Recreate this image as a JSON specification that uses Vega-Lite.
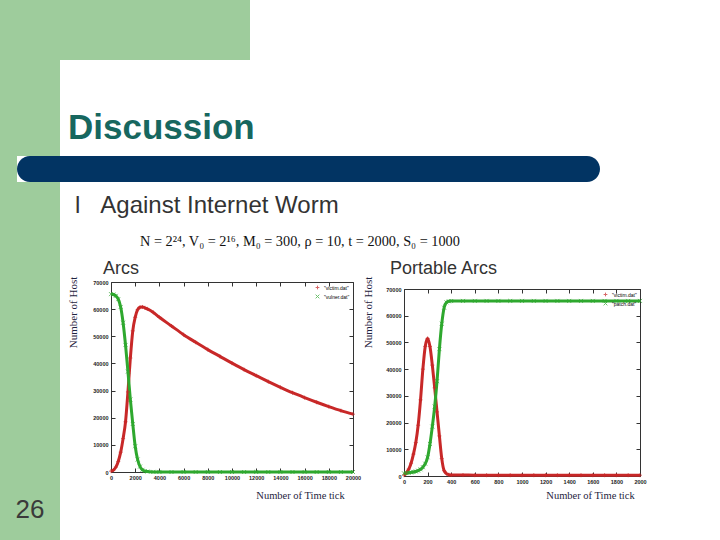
{
  "$schema": "https://vega.github.io/schema/vega-lite/v6.json",
  "padding": 0,
  "background": "white",
  "spacing": 0,
  "bounds": "flush",
  "config": {
    "view": {"stroke": null},
    "font": "Liberation Sans",
    "concat": {"spacing": 0},
    "title": {"font": "Liberation Sans", "fontWeight": "normal", "color": "#333333", "anchor": "start", "frame": "group", "limit": 2000},
    "axis": {"grid": false, "domain": false, "tickSize": -4, "tickColor": "#333333", "labelFontSize": 5.5, "labelFontWeight": "bold", "labelColor": "#222222", "labelPadding": 7, "labelFlush": false, "labelOverlap": false, "titleFont": "Liberation Serif", "titleFontWeight": "normal", "titleColor": "#1f2440", "titleBaseline": "middle", "titleAlign": "center"}
  },
  "datasets": {
    "arcs": [
      {"t": 0, "hosts": 300, "series": "\"victim.dat\""},
      {"t": 200, "hosts": 700, "series": "\"victim.dat\""},
      {"t": 400, "hosts": 1800, "series": "\"victim.dat\""},
      {"t": 600, "hosts": 3900, "series": "\"victim.dat\""},
      {"t": 800, "hosts": 7300, "series": "\"victim.dat\""},
      {"t": 1000, "hosts": 12300, "series": "\"victim.dat\""},
      {"t": 1200, "hosts": 18500, "series": "\"victim.dat\""},
      {"t": 1400, "hosts": 29500, "series": "\"victim.dat\""},
      {"t": 1600, "hosts": 42000, "series": "\"victim.dat\""},
      {"t": 1800, "hosts": 52000, "series": "\"victim.dat\""},
      {"t": 2000, "hosts": 57000, "series": "\"victim.dat\""},
      {"t": 2200, "hosts": 59800, "series": "\"victim.dat\""},
      {"t": 2400, "hosts": 60700, "series": "\"victim.dat\""},
      {"t": 2600, "hosts": 60800, "series": "\"victim.dat\""},
      {"t": 2800, "hosts": 60500, "series": "\"victim.dat\""},
      {"t": 3000, "hosts": 60100, "series": "\"victim.dat\""},
      {"t": 3500, "hosts": 58800, "series": "\"victim.dat\""},
      {"t": 4000, "hosts": 57000, "series": "\"victim.dat\""},
      {"t": 5000, "hosts": 53800, "series": "\"victim.dat\""},
      {"t": 6000, "hosts": 50600, "series": "\"victim.dat\""},
      {"t": 7000, "hosts": 47800, "series": "\"victim.dat\""},
      {"t": 8000, "hosts": 45100, "series": "\"victim.dat\""},
      {"t": 9000, "hosts": 42600, "series": "\"victim.dat\""},
      {"t": 10000, "hosts": 40100, "series": "\"victim.dat\""},
      {"t": 11000, "hosts": 37700, "series": "\"victim.dat\""},
      {"t": 12000, "hosts": 35500, "series": "\"victim.dat\""},
      {"t": 13000, "hosts": 33300, "series": "\"victim.dat\""},
      {"t": 14000, "hosts": 31200, "series": "\"victim.dat\""},
      {"t": 15000, "hosts": 29200, "series": "\"victim.dat\""},
      {"t": 16000, "hosts": 27400, "series": "\"victim.dat\""},
      {"t": 17000, "hosts": 25700, "series": "\"victim.dat\""},
      {"t": 18000, "hosts": 24100, "series": "\"victim.dat\""},
      {"t": 19000, "hosts": 22600, "series": "\"victim.dat\""},
      {"t": 20000, "hosts": 21300, "series": "\"victim.dat\""},
      {"t": 0, "hosts": 65536, "series": "\"vulner.dat\""},
      {"t": 200, "hosts": 65400, "series": "\"vulner.dat\""},
      {"t": 400, "hosts": 64900, "series": "\"vulner.dat\""},
      {"t": 600, "hosts": 63700, "series": "\"vulner.dat\""},
      {"t": 800, "hosts": 60800, "series": "\"vulner.dat\""},
      {"t": 1000, "hosts": 55000, "series": "\"vulner.dat\""},
      {"t": 1200, "hosts": 46800, "series": "\"vulner.dat\""},
      {"t": 1400, "hosts": 37000, "series": "\"vulner.dat\""},
      {"t": 1600, "hosts": 26700, "series": "\"vulner.dat\""},
      {"t": 1800, "hosts": 17700, "series": "\"vulner.dat\""},
      {"t": 2000, "hosts": 9500, "series": "\"vulner.dat\""},
      {"t": 2200, "hosts": 4600, "series": "\"vulner.dat\""},
      {"t": 2400, "hosts": 2000, "series": "\"vulner.dat\""},
      {"t": 2600, "hosts": 800, "series": "\"vulner.dat\""},
      {"t": 2800, "hosts": 350, "series": "\"vulner.dat\""},
      {"t": 3000, "hosts": 150, "series": "\"vulner.dat\""},
      {"t": 3500, "hosts": 40, "series": "\"vulner.dat\""},
      {"t": 4000, "hosts": 10, "series": "\"vulner.dat\""},
      {"t": 5000, "hosts": 0, "series": "\"vulner.dat\""},
      {"t": 6000, "hosts": 0, "series": "\"vulner.dat\""},
      {"t": 7000, "hosts": 0, "series": "\"vulner.dat\""},
      {"t": 8000, "hosts": 0, "series": "\"vulner.dat\""},
      {"t": 9000, "hosts": 0, "series": "\"vulner.dat\""},
      {"t": 10000, "hosts": 0, "series": "\"vulner.dat\""},
      {"t": 11000, "hosts": 0, "series": "\"vulner.dat\""},
      {"t": 12000, "hosts": 0, "series": "\"vulner.dat\""},
      {"t": 13000, "hosts": 0, "series": "\"vulner.dat\""},
      {"t": 14000, "hosts": 0, "series": "\"vulner.dat\""},
      {"t": 15000, "hosts": 0, "series": "\"vulner.dat\""},
      {"t": 16000, "hosts": 0, "series": "\"vulner.dat\""},
      {"t": 17000, "hosts": 0, "series": "\"vulner.dat\""},
      {"t": 18000, "hosts": 0, "series": "\"vulner.dat\""},
      {"t": 19000, "hosts": 0, "series": "\"vulner.dat\""},
      {"t": 20000, "hosts": 0, "series": "\"vulner.dat\""}
    ],
    "portable": [
      {"t": 0, "hosts": 300, "series": "\"victim.dat\""},
      {"t": 20, "hosts": 1200, "series": "\"victim.dat\""},
      {"t": 40, "hosts": 2600, "series": "\"victim.dat\""},
      {"t": 60, "hosts": 4800, "series": "\"victim.dat\""},
      {"t": 80, "hosts": 8200, "series": "\"victim.dat\""},
      {"t": 100, "hosts": 12500, "series": "\"victim.dat\""},
      {"t": 120, "hosts": 19000, "series": "\"victim.dat\""},
      {"t": 140, "hosts": 28500, "series": "\"victim.dat\""},
      {"t": 160, "hosts": 40000, "series": "\"victim.dat\""},
      {"t": 180, "hosts": 48500, "series": "\"victim.dat\""},
      {"t": 200, "hosts": 51500, "series": "\"victim.dat\""},
      {"t": 220, "hosts": 48500, "series": "\"victim.dat\""},
      {"t": 240, "hosts": 41500, "series": "\"victim.dat\""},
      {"t": 260, "hosts": 33000, "series": "\"victim.dat\""},
      {"t": 280, "hosts": 24000, "series": "\"victim.dat\""},
      {"t": 300, "hosts": 15000, "series": "\"victim.dat\""},
      {"t": 320, "hosts": 6500, "series": "\"victim.dat\""},
      {"t": 340, "hosts": 2000, "series": "\"victim.dat\""},
      {"t": 360, "hosts": 900, "series": "\"victim.dat\""},
      {"t": 380, "hosts": 500, "series": "\"victim.dat\""},
      {"t": 400, "hosts": 400, "series": "\"victim.dat\""},
      {"t": 500, "hosts": 350, "series": "\"victim.dat\""},
      {"t": 600, "hosts": 320, "series": "\"victim.dat\""},
      {"t": 700, "hosts": 300, "series": "\"victim.dat\""},
      {"t": 800, "hosts": 300, "series": "\"victim.dat\""},
      {"t": 900, "hosts": 300, "series": "\"victim.dat\""},
      {"t": 1000, "hosts": 300, "series": "\"victim.dat\""},
      {"t": 1100, "hosts": 300, "series": "\"victim.dat\""},
      {"t": 1200, "hosts": 300, "series": "\"victim.dat\""},
      {"t": 1300, "hosts": 300, "series": "\"victim.dat\""},
      {"t": 1400, "hosts": 300, "series": "\"victim.dat\""},
      {"t": 1500, "hosts": 300, "series": "\"victim.dat\""},
      {"t": 1600, "hosts": 300, "series": "\"victim.dat\""},
      {"t": 1700, "hosts": 300, "series": "\"victim.dat\""},
      {"t": 1800, "hosts": 300, "series": "\"victim.dat\""},
      {"t": 1900, "hosts": 300, "series": "\"victim.dat\""},
      {"t": 2000, "hosts": 300, "series": "\"victim.dat\""},
      {"t": 0, "hosts": 1000, "series": "\"patch.dat\""},
      {"t": 20, "hosts": 1100, "series": "\"patch.dat\""},
      {"t": 40, "hosts": 1200, "series": "\"patch.dat\""},
      {"t": 60, "hosts": 1350, "series": "\"patch.dat\""},
      {"t": 80, "hosts": 1500, "series": "\"patch.dat\""},
      {"t": 100, "hosts": 1700, "series": "\"patch.dat\""},
      {"t": 120, "hosts": 2000, "series": "\"patch.dat\""},
      {"t": 140, "hosts": 2500, "series": "\"patch.dat\""},
      {"t": 160, "hosts": 3300, "series": "\"patch.dat\""},
      {"t": 180, "hosts": 4600, "series": "\"patch.dat\""},
      {"t": 200, "hosts": 7000, "series": "\"patch.dat\""},
      {"t": 220, "hosts": 12000, "series": "\"patch.dat\""},
      {"t": 240, "hosts": 18500, "series": "\"patch.dat\""},
      {"t": 260, "hosts": 26000, "series": "\"patch.dat\""},
      {"t": 280, "hosts": 35500, "series": "\"patch.dat\""},
      {"t": 300, "hosts": 47500, "series": "\"patch.dat\""},
      {"t": 320, "hosts": 57000, "series": "\"patch.dat\""},
      {"t": 340, "hosts": 63000, "series": "\"patch.dat\""},
      {"t": 360, "hosts": 65000, "series": "\"patch.dat\""},
      {"t": 380, "hosts": 65400, "series": "\"patch.dat\""},
      {"t": 400, "hosts": 65500, "series": "\"patch.dat\""},
      {"t": 500, "hosts": 65536, "series": "\"patch.dat\""},
      {"t": 600, "hosts": 65536, "series": "\"patch.dat\""},
      {"t": 700, "hosts": 65536, "series": "\"patch.dat\""},
      {"t": 800, "hosts": 65536, "series": "\"patch.dat\""},
      {"t": 900, "hosts": 65536, "series": "\"patch.dat\""},
      {"t": 1000, "hosts": 65536, "series": "\"patch.dat\""},
      {"t": 1100, "hosts": 65536, "series": "\"patch.dat\""},
      {"t": 1200, "hosts": 65536, "series": "\"patch.dat\""},
      {"t": 1300, "hosts": 65536, "series": "\"patch.dat\""},
      {"t": 1400, "hosts": 65536, "series": "\"patch.dat\""},
      {"t": 1500, "hosts": 65536, "series": "\"patch.dat\""},
      {"t": 1600, "hosts": 65536, "series": "\"patch.dat\""},
      {"t": 1700, "hosts": 65536, "series": "\"patch.dat\""},
      {"t": 1800, "hosts": 65536, "series": "\"patch.dat\""},
      {"t": 1900, "hosts": 65536, "series": "\"patch.dat\""},
      {"t": 2000, "hosts": 65536, "series": "\"patch.dat\""}
    ]
  },
  "vconcat": [
    {
      "width": 250, "height": 60,
      "view": {"fill": "#9ecc9c", "stroke": null},
      "data": {"values": [{}]},
      "mark": {"type": "text", "text": ""}
    },
    {
      "width": 60, "height": 96,
      "view": {"fill": "#9ecc9c", "stroke": null},
      "title": {"text": "Discussion", "fontSize": 35, "fontWeight": "bold", "color": "#17675f", "dx": 68, "dy": 114, "offset": 0, "baseline": "alphabetic"},
      "data": {"values": [{}]},
      "mark": {"type": "text", "text": ""}
    },
    {
      "hconcat": [
        {
          "width": 17, "height": 26,
          "view": {"fill": "#9ecc9c", "stroke": null},
          "data": {"values": [{}]},
          "mark": {"type": "text", "text": ""}
        },
        {
          "width": 583, "height": 26,
          "view": {"fill": "#023463", "stroke": null, "cornerRadius": 13},
          "data": {"values": [{}]},
          "mark": {"type": "text", "text": ""}
        }
      ],
      "spacing": 0,
      "bounds": "flush"
    },
    {
      "width": 1, "height": 26,
      "data": {"values": [{}]},
      "mark": {"type": "text", "text": ""}
    },
    {
      "hconcat": [
        {
          "width": 60, "height": 358,
          "view": {"fill": "#9ecc9c", "stroke": null},
          "title": {"text": "l\u00a0\u00a0\u00a0Against Internet Worm", "fontSize": 24, "color": "#333333", "dx": 75, "dy": 55, "offset": 0, "baseline": "alphabetic"},
          "data": {"values": [{"page": "26"}]},
          "mark": {"type": "text", "fontSize": 26, "color": "#3a3a3a", "dy": 149, "font": "Liberation Sans"},
          "encoding": {"text": {"field": "page", "type": "nominal"}}
        },
        {
          "vconcat": [
            {
              "width": 242, "height": 100,
              "title": {"text": "N = 2²⁴, V₀ = 2¹⁶, M₀ = 300, ρ = 10, t = 2000, S₀ = 1000", "font": "Liberation Serif", "fontSize": 14.3, "color": "#111111", "dx": 29, "dy": 78, "offset": 0, "baseline": "alphabetic"},
              "data": {"values": [{}]},
              "mark": {"type": "text", "text": ""}
            },
            {
              "width": 242, "height": 190,
              "view": {"stroke": "#333333", "strokeWidth": 1},
              "title": {"text": "Arcs", "fontSize": 18, "color": "#333333", "dx": -8, "dy": 16, "offset": 0, "baseline": "alphabetic"},
              "data": {"name": "arcs"},
              "encoding": {
                "color": {"field": "series", "type": "nominal", "scale": {"domain": ["\"victim.dat\"", "\"vulner.dat\""], "range": ["#c82828", "#2ea82e"]}, "legend": {"title": null, "orient": "top-right", "offset": 3, "padding": 0, "labelFontSize": 5, "symbolSize": 14, "rowPadding": 0, "symbolStrokeWidth": 1}}
              },
              "layer": [
                {
                  "mark": {"type": "line", "strokeWidth": 3, "interpolate": "monotone"},
                  "encoding": {
                    "x": {"field": "t", "type": "quantitative", "scale": {"domain": [0, 20000], "nice": false}, "axis": {"orient": "bottom", "values": [0, 2000, 4000, 6000, 8000, 10000, 12000, 14000, 16000, 18000, 20000], "format": "d", "title": "Number of Time tick", "titleFontSize": 10.5, "titleX": 189, "titleY": 23}},
                    "y": {"field": "hosts", "type": "quantitative", "scale": {"domain": [0, 70000], "nice": false}, "axis": {"orient": "left", "values": [0, 10000, 20000, 30000, 40000, 50000, 60000, 70000], "format": "d", "title": "Number of Host", "titleFontSize": 11, "titleAngle": -90, "titleX": -38, "titleY": 30}}
                  }
                },
                {
                  "mark": {"type": "point", "filled": false, "size": 16, "strokeWidth": 1},
                  "encoding": {
                    "x": {"field": "t", "type": "quantitative", "axis": {"orient": "top", "values": [0, 2000, 4000, 6000, 8000, 10000, 12000, 14000, 16000, 18000, 20000], "labels": false, "title": null}},
                    "y": {"field": "hosts", "type": "quantitative", "axis": {"orient": "right", "values": [0, 10000, 20000, 30000, 40000, 50000, 60000, 70000], "labels": false, "title": null}},
                    "shape": {"field": "series", "type": "nominal", "scale": {"domain": ["\"victim.dat\"", "\"vulner.dat\""], "range": ["M-1,0H1M0,-1V1", "M-1,-1L1,1M-1,1L1,-1"]}, "legend": {"title": null, "orient": "top-right", "offset": 3, "padding": 0, "labelFontSize": 5, "symbolSize": 14, "rowPadding": 0, "symbolStrokeWidth": 1}}
                  }
                }
              ],
              "resolve": {"axis": {"x": "independent", "y": "independent"}}
            }
          ],
          "spacing": 0,
          "bounds": "flush",
          "resolve": {"scale": {"color": "independent", "shape": "independent"}}
        },
        {
          "width": 191, "height": 1,
          "data": {"values": [{}]},
          "mark": {"type": "text", "text": ""}
        },
        {
          "vconcat": [
            {
              "width": 236, "height": 107,
              "data": {"values": [{}]},
              "mark": {"type": "text", "text": ""}
            },
            {
              "width": 236, "height": 187,
              "view": {"stroke": "#333333", "strokeWidth": 1},
              "title": {"text": "Portable Arcs", "fontSize": 18, "color": "#333333", "dx": -14, "dy": 16, "offset": 0, "baseline": "alphabetic"},
              "data": {"name": "portable"},
              "encoding": {
                "color": {"field": "series", "type": "nominal", "scale": {"domain": ["\"victim.dat\"", "\"patch.dat\""], "range": ["#c82828", "#2ea82e"]}, "legend": {"title": null, "orient": "top-right", "offset": 3, "padding": 0, "labelFontSize": 5, "symbolSize": 14, "rowPadding": 0, "symbolStrokeWidth": 1}}
              },
              "layer": [
                {
                  "mark": {"type": "line", "strokeWidth": 3, "interpolate": "monotone"},
                  "encoding": {
                    "x": {"field": "t", "type": "quantitative", "scale": {"domain": [0, 2000], "nice": false}, "axis": {"orient": "bottom", "values": [0, 200, 400, 600, 800, 1000, 1200, 1400, 1600, 1800, 2000], "format": "d", "title": "Number of Time tick", "titleFontSize": 10.5, "titleX": 186, "titleY": 19}},
                    "y": {"field": "hosts", "type": "quantitative", "scale": {"domain": [0, 70000], "nice": false}, "axis": {"orient": "left", "values": [0, 10000, 20000, 30000, 40000, 50000, 60000, 70000], "format": "d", "title": "Number of Host", "titleFontSize": 11, "titleAngle": -90, "titleX": -36, "titleY": 23}}
                  }
                },
                {
                  "mark": {"type": "point", "filled": false, "size": 16, "strokeWidth": 1},
                  "encoding": {
                    "x": {"field": "t", "type": "quantitative", "axis": {"orient": "top", "values": [0, 200, 400, 600, 800, 1000, 1200, 1400, 1600, 1800, 2000], "labels": false, "title": null}},
                    "y": {"field": "hosts", "type": "quantitative", "axis": {"orient": "right", "values": [0, 10000, 20000, 30000, 40000, 50000, 60000, 70000], "labels": false, "title": null}},
                    "shape": {"field": "series", "type": "nominal", "scale": {"domain": ["\"victim.dat\"", "\"patch.dat\""], "range": ["M-1,0H1M0,-1V1", "M-1,-1L1,1M-1,1L1,-1"]}, "legend": {"title": null, "orient": "top-right", "offset": 3, "padding": 0, "labelFontSize": 5, "symbolSize": 14, "rowPadding": 0, "symbolStrokeWidth": 1}}
                  }
                }
              ],
              "resolve": {"axis": {"x": "independent", "y": "independent"}}
            }
          ],
          "spacing": 0,
          "bounds": "flush",
          "resolve": {"scale": {"color": "independent", "shape": "independent"}}
        }
      ],
      "spacing": 51,
      "bounds": "flush",
      "resolve": {"scale": {"color": "independent", "shape": "independent"}}
    }
  ]
}
